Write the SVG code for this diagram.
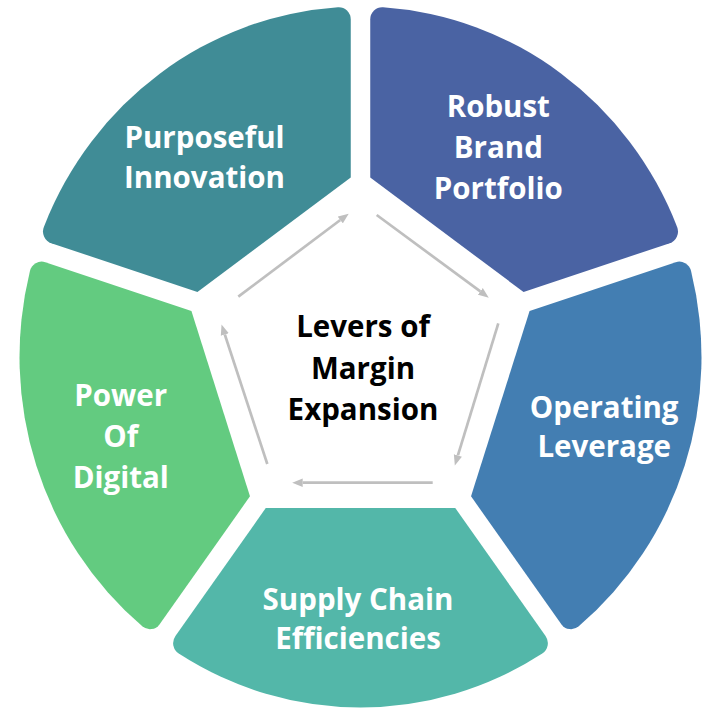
<svg xmlns="http://www.w3.org/2000/svg" xmlns:xlink="http://www.w3.org/1999/xlink" width="705" height="714" viewBox="0 0 705 714">
  <style>
    .lbl { font-family: "Open Sans", "Liberation Sans", sans-serif; font-weight: 700; font-size: 29.5px; fill: #ffffff; text-anchor: middle; }
    .ctr { font-family: "Open Sans", "Liberation Sans", sans-serif; font-weight: 700; font-size: 29.5px; fill: #000000; text-anchor: middle; }
    .arrow { stroke: #bfbfbf; stroke-width: 2.7; fill: none; marker-end: url(#head); }
  </style>
  <defs>
    <path id="seg" d="M147,-94.75 L271.31,-185.07 A12,12 0 0 1 288.51,-181.76 A341,341 0 0 1 288.51,181.76 A12,12 0 0 1 271.31,185.07 L147,94.75 Z"/>
    <marker id="head" markerUnits="userSpaceOnUse" markerWidth="11" markerHeight="9" refX="0" refY="4.2" orient="auto" viewBox="0 0 11 8.4">
      <path d="M0,0 L10.5,4.2 L0,8.4 Z" fill="#bfbfbf"/>
    </marker>
  </defs>
  <rect width="705" height="714" fill="#ffffff"/>

  <g id="robust-brand-portfolio">
    <use xlink:href="#seg" fill="#4a63a3" transform="translate(360.5,357) scale(1,1.028) rotate(-54)"/>
    <text class="lbl"><tspan x="498.3" y="117.3">Robust</tspan><tspan x="498.3" y="158">Brand</tspan><tspan x="498.3" y="199.3">Portfolio</tspan></text>
  </g>
  <g id="operating-leverage">
    <use xlink:href="#seg" fill="#437eb2" transform="translate(360.5,357) scale(1,1.028) rotate(18)"/>
    <text class="lbl"><tspan x="604.2" y="417.5">Operating</tspan><tspan x="604.2" y="457">Leverage</tspan></text>
  </g>
  <g id="supply-chain-efficiencies">
    <use xlink:href="#seg" fill="#53b7a9" transform="translate(360.5,357) scale(1,1.028) rotate(90)"/>
    <text class="lbl"><tspan x="358" y="609.5">Supply Chain</tspan><tspan x="358" y="648.5">Efficiencies</tspan></text>
  </g>
  <g id="power-of-digital">
    <use xlink:href="#seg" fill="#63cb80" transform="translate(360.5,357) scale(1,1.028) rotate(162)"/>
    <text class="lbl"><tspan x="120.7" y="406">Power</tspan><tspan x="120.7" y="446.5">Of</tspan><tspan x="120.7" y="487.5">Digital</tspan></text>
  </g>
  <g id="purposeful-innovation">
    <use xlink:href="#seg" fill="#408c96" transform="translate(360.5,357) scale(1,1.028) rotate(234)"/>
    <text class="lbl"><tspan x="204.5" y="148">Purposeful</tspan><tspan x="204.5" y="188">Innovation</tspan></text>
  </g>
  <g id="levers-of-margin-expansion">
    <text class="ctr"><tspan x="363" y="337">Levers of</tspan><tspan x="363" y="378.5">Margin</tspan><tspan x="363" y="420">Expansion</tspan></text>
  </g>

  <g id="connectors">
    <line class="arrow" x1="238.3" y1="296.7" x2="340.3" y2="220.0"/>
    <line class="arrow" x1="376.7" y1="215" x2="480.3" y2="291.4"/>
    <line class="arrow" x1="498.3" y1="323.3" x2="457.9" y2="455.4"/>
    <line class="arrow" x1="432.7" y1="482.7" x2="302.7" y2="482.7"/>
    <line class="arrow" x1="267.3" y1="464" x2="224.8" y2="334.5"/>
  </g>
</svg>
